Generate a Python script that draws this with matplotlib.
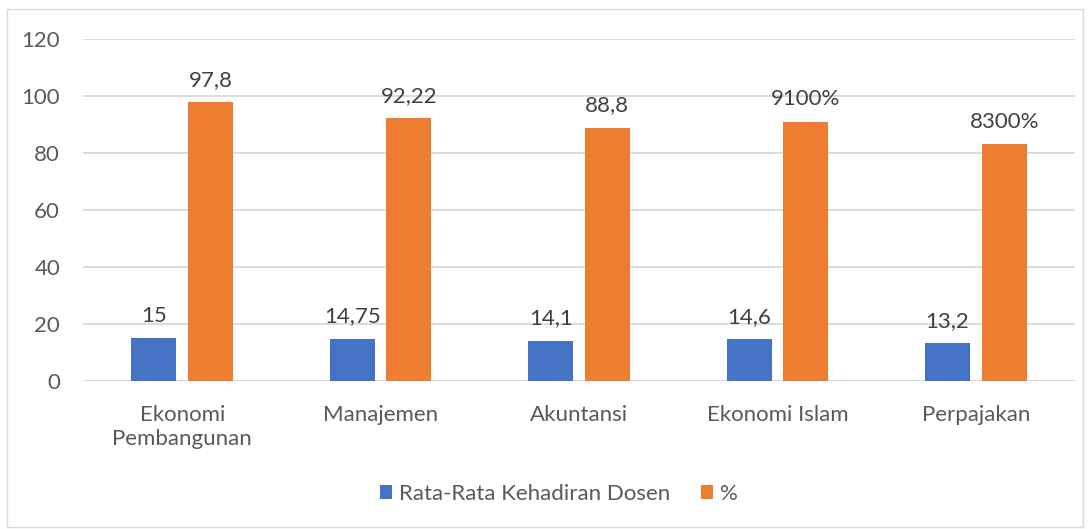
import matplotlib
matplotlib.use("Agg")
import matplotlib.pyplot as plt
import numpy as np
from matplotlib.patches import Rectangle

categories = ["Ekonomi\nPembangunan", "Manajemen", "Akuntansi", "Ekonomi Islam", "Perpajakan"]
kehadiran = [15, 14.75, 14.1, 14.6, 13.2]
persen = [97.8, 92.22, 88.8, 91, 83]
kehadiran_labels = ["15", "14,75", "14,1", "14,6", "13,2"]
persen_labels = ["97,8", "92,22", "88,8", "9100%", "8300%"]
yticks = [0, 20, 40, 60, 80, 100, 120]
series_names = ["Rata-Rata Kehadiran Dosen", "%"]

BLUE = "#4472C4"
ORANGE = "#ED7D31"
TXT = "#595959"
GRID = "#D9D9D9"

plt.rcParams['font.family'] = ['Lato', 'DejaVu Sans']
FS = 16

W, H = 1091, 529
fig = plt.figure(figsize=(W / 100, H / 100), dpi=100)
ax = fig.add_axes([83 / W, 1 - 381 / H, (1075 - 83) / W, (381 - 39) / H])

x = np.arange(len(categories))
bw = 0.227
off = 0.143
b1 = ax.bar(x - off, kehadiran, bw, color=BLUE, zorder=3, label=series_names[0])
b2 = ax.bar(x + off, persen, bw, color=ORANGE, zorder=3, label=series_names[1])

for rect, lab in zip(b1, kehadiran_labels):
    ax.annotate(lab, (rect.get_x() + rect.get_width() / 2, rect.get_height()),
                xytext=(0, 9), textcoords="offset points", ha="center", va="bottom",
                fontsize=FS, color="#404040")
for rect, lab in zip(b2, persen_labels):
    ax.annotate(lab, (rect.get_x() + rect.get_width() / 2, rect.get_height()),
                xytext=(0, 9), textcoords="offset points", ha="center", va="bottom",
                fontsize=FS, color="#404040")

ax.set_xlim(-0.5, len(categories) - 0.5)
ax.set_ylim(0, 120)
ax.set_yticks(yticks)
ax.set_yticklabels([str(v) for v in yticks], fontsize=FS, color=TXT)
ax.set_xticks(x)
ax.set_xticklabels(categories, fontsize=FS, color=TXT, linespacing=1.25)
ax.tick_params(axis='both', length=0)
ax.tick_params(axis='y', pad=16.5)
ax.tick_params(axis='x', pad=17)
ax.grid(axis='y', color=GRID, linewidth=1.3, zorder=0)
for s in ax.spines.values():
    s.set_visible(False)

leg = fig.legend(handles=[b1, b2], labels=series_names, loc="center",
                 bbox_to_anchor=(559 / W, 1 - 494 / H), ncol=2, frameon=False,
                 fontsize=FS, handlelength=0.55, handleheight=0.55, handletextpad=0.3,
                 columnspacing=1.4, labelcolor=TXT)

fig.patches.append(Rectangle((7 / W, 1 - 527 / H), (1083 - 7) / W, (527 - 9) / H,
                             transform=fig.transFigure, fill=False,
                             edgecolor="#D9D9D9", linewidth=1.0))

fig.savefig("out.png", dpi=100)
